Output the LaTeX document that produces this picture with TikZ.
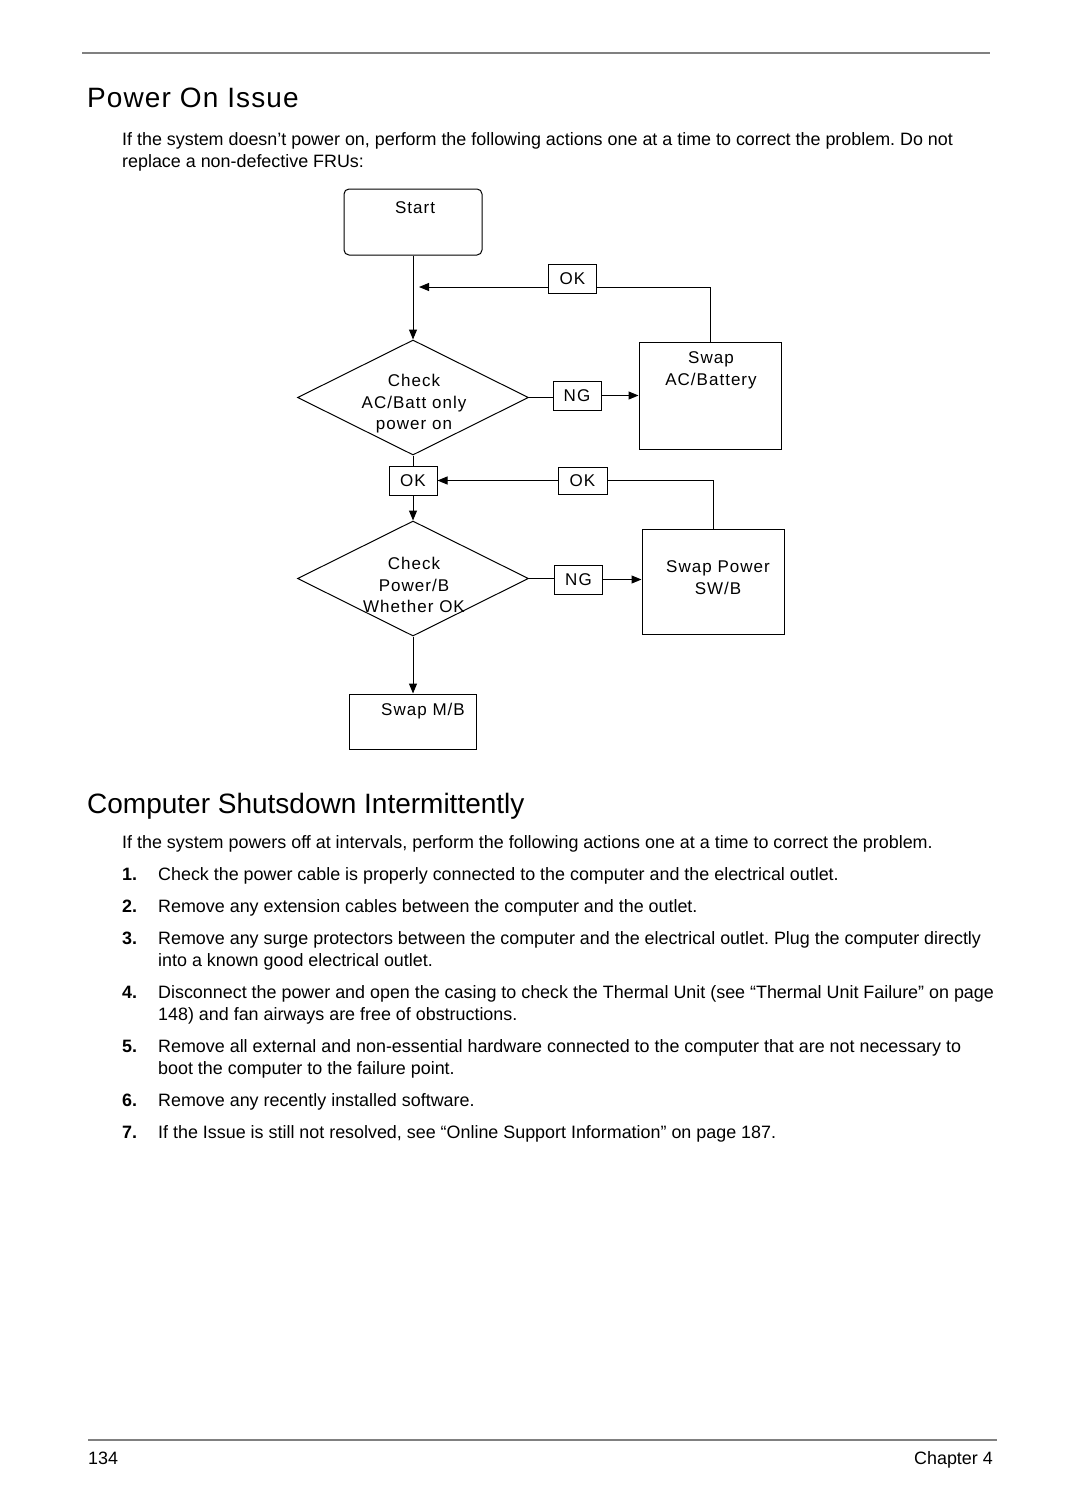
\documentclass[tikz,border=0pt]{standalone}
\usepackage{fontspec}
\setmainfont{Liberation Sans}
\newfontfamily\flowfont[LetterSpace=6]{Liberation Sans}
\newfontfamily\titlefont[LetterSpace=4]{Liberation Sans}
\usetikzlibrary{shapes.geometric,arrows.meta,positioning}
\frenchspacing

\begin{document}
\begin{tikzpicture}[x=1pt, y=-1pt,
  flowtext/.style={font=\flowfont\fontsize{17}{21.5}\selectfont, align=center, inner sep=0pt},
  bodytext/.style={font=\fontsize{17.9}{22}\selectfont, anchor=base west, inner sep=0pt},
  itemno/.style={bodytext, font=\bfseries\fontsize{17.9}{22}\selectfont},
  procbox/.style={draw, line width=1pt, inner sep=0pt},
  tagbox/.style={draw, line width=1pt, inner sep=0pt, minimum width=48pt, minimum height=29pt,
    font=\flowfont\fontsize{17}{21}\selectfont},
  decision/.style={draw, diamond, line width=1pt, inner sep=0pt, minimum width=231pt, minimum height=115pt},
  link/.style={line width=1pt},
  arrow/.style={link, -{Triangle[length=10pt, width=8pt]}},
  rulegray/.style={draw=black!50, line width=2pt}
]
  \useasboundingbox (0,0) rectangle (1080,1512);

  % page header
  \coordinate (hdl) at (82,53);
  \coordinate (hdr) at (990,53);
  \draw[rulegray] (hdl) -- (hdr);
  \node[anchor=base west, inner sep=0pt, font=\titlefont\fontsize{28}{32}\selectfont] (title) at (87,107) {Power On Issue};
  \node[bodytext] (introa) at (122,145) {If the system doesn’t power on, perform the following actions one at a time to correct the problem. Do not};
  \node[bodytext] (introb) at (122,167) {replace a non-defective FRUs:};

  % flow chart
  \node[procbox, rounded corners=5pt, minimum width=138pt, minimum height=66pt] (start) at (413,222) {};
  \node[flowtext] (startT) at (415,208) {Start};

  \node[decision] (chkac) at (413,397.5) {};
  \node[flowtext] (chkacT) at (414,404) {Check\\AC/Batt only\\power on};

  \node[tagbox] (okA) at (572.5,278.5) {OK};
  \coordinate (tipA) at (419,287);
  \node[tagbox] (ngA) at (577,395.5) {NG};

  \node[procbox, minimum width=142pt, minimum height=107pt] (swapac) at (710,395.5) {};
  \node[flowtext] (swapacT) at (711,370.5) {Swap\\AC/Battery};

  \node[tagbox] (okB) at (413,480.5) {OK};
  \node[tagbox, minimum width=49pt, minimum height=27pt] (okC) at (582.5,480.5) {OK};

  \node[decision] (chkpw) at (413,578.5) {};
  \node[flowtext] (chkpwT) at (414,585) {Check\\Power/B\\Whether OK};
  \node[tagbox] (ngB) at (578.5,579.5) {NG};

  \node[procbox, minimum width=142pt, minimum height=105pt] (swappw) at (713,581.5) {};
  \node[flowtext] (swappwT) at (718,577.5) {Swap Power\\SW/B};

  \node[procbox, minimum width=127pt, minimum height=55pt] (swapmb) at (412.5,721.5) {};
  \node[flowtext] (swapmbT) at (423,711) {Swap M/B};

  % connectors
  \draw[arrow] (start.south) -- (chkac.north);
  \draw[arrow] (okA.west |- tipA) -- (tipA);
  \draw[link] (okA.east |- tipA) -| (swapac.north);
  \draw[link] (chkac.east) -- (chkac.east -| ngA.west);
  \draw[arrow] (ngA.east) -- (ngA.east -| swapac.west);
  \draw[link] (chkac.south) -- (okB.north);
  \draw[arrow] (okC.west) -- (okB.east);
  \draw[link] (okC.east) -| (swappw.north);
  \draw[arrow] (okB.south) -- (chkpw.north);
  \draw[link] (chkpw.east) -- (chkpw.east -| ngB.west);
  \draw[arrow] (ngB.east) -- (ngB.east -| swappw.west);
  \draw[arrow] (chkpw.south) -- (chkpw.south |- swapmb.north);

  % second section
  \node[anchor=base west, inner sep=0pt, font=\fontsize{28}{32}\selectfont] (title2) at (87,813) {Computer Shutsdown Intermittently};
  \node[bodytext] (introc) at (122,848) {If the system powers off at intervals, perform the following actions one at a time to correct the problem.};

  \foreach \n/\yy in {1/880, 2/912, 3/944, 4/998, 5/1052, 6/1106, 7/1138}
    \node[itemno] (no\n) at (122,\yy) {\n.};

  \foreach \yy/\txt [count=\i] in {
      880/{Check the power cable is properly connected to the computer and the electrical outlet.},
      912/{Remove any extension cables between the computer and the outlet.},
      944/{Remove any surge protectors between the computer and the electrical outlet. Plug the computer directly},
      966/{into a known good electrical outlet.},
      998/{Disconnect the power and open the casing to check the Thermal Unit (see “Thermal Unit Failure” on page},
      1020/{148) and fan airways are free of obstructions.},
      1052/{Remove all external and non-essential hardware connected to the computer that are not necessary to},
      1074/{boot the computer to the failure point.},
      1106/{Remove any recently installed software.},
      1138/{If the Issue is still not resolved, see “Online Support Information” on page 187.}}
    \node[bodytext] (ln\i) at (158,\yy) {\txt};

  % page footer
  \coordinate (ftl) at (88,1440);
  \coordinate (ftr) at (997,1440);
  \draw[rulegray] (ftl) -- (ftr);
  \node[bodytext] (pageno) at (88,1464) {134};
  \node[bodytext, anchor=base east] (chap) at (993,1464) {Chapter 4};
\end{tikzpicture}
\end{document}
